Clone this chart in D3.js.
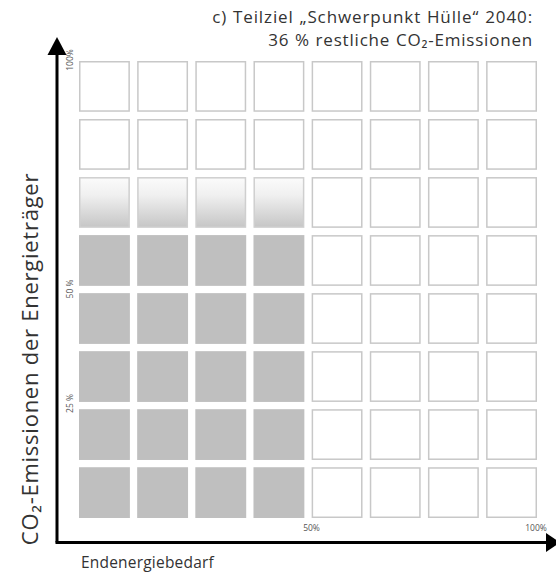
<!DOCTYPE html>
<html><head><meta charset="utf-8">
<script src="https://cdn.jsdelivr.net/npm/d3@7"></script>
<style>body{margin:0;background:#fff}svg{display:block}text{font-family:"Open Sans","Noto Sans",sans-serif}</style>
</head><body><div id="chart"></div>
<script>
const titleLines = ["c) Teilziel „Schwerpunkt Hülle“ 2040:", "36 % restliche CO₂-Emissionen"];
const xLabel = "Endenergiebedarf";
const yLabel = "CO₂-Emissionen der Energieträger";
const columns = [1, 2, 3, 4, 5, 6, 7, 8];
const rows = [8, 7, 6, 5, 4, 3, 2, 1]; // top to bottom
const columnStates = ["on", "on", "on", "on", "off", "off", "off", "off"];
const rowStates = ["empty", "empty", "fade", "solid", "solid", "solid", "solid", "solid"]; // top to bottom
const xTickValues = [50, 100];
const xTickLabels = ["50%", "100%"];
const yTickValues = [25, 50, 100];
const yTickLabels = ["25 %", "50 %", "100%"];

const W = 556, H = 577;
const svg = d3.select("#chart").append("svg").attr("width", W).attr("height", H);
const defs = svg.append("defs");
const grad = defs.append("linearGradient").attr("id", "fade").attr("x1", 0).attr("y1", 0).attr("x2", 0).attr("y2", 1);
grad.append("stop").attr("offset", "0%").attr("stop-color", "#fbfbfb");
grad.append("stop").attr("offset", "35%").attr("stop-color", "#f0f0f0");
grad.append("stop").attr("offset", "100%").attr("stop-color", "#c6c6c6");

const x0 = 79, x1 = 537, y0 = 61, y1 = 518;
const xb = d3.scaleBand().domain(columns).range([x0, x1]).paddingInner(0.125).paddingOuter(0);
const yb = d3.scaleBand().domain(rows).range([y0, y1]).paddingInner(0.125).paddingOuter(0);
const xs = d3.scaleLinear().domain([0, 100]).range([x0 - 1, x1]);
const ys = d3.scaleLinear().domain([0, 100]).range([y1, y0 - 1]);

const cells = [];
rows.forEach((r, ri) => columns.forEach((c, ci) => {
  let st = "white";
  if (columnStates[ci] === "on" && rowStates[ri] === "solid") st = "solid";
  else if (columnStates[ci] === "on" && rowStates[ri] === "fade") st = "fade";
  cells.push({r, c, st});
}));

svg.append("g").selectAll("rect").data(cells).join("rect")
  .attr("x", d => xb(d.c) + (d.st === "solid" ? 0 : 0.75))
  .attr("y", d => yb(d.r) + (d.st === "solid" ? 0 : 0.75))
  .attr("width", d => xb.bandwidth() - (d.st === "solid" ? 0 : 1.5))
  .attr("height", d => yb.bandwidth() - (d.st === "solid" ? 0 : 1.5))
  .attr("fill", d => d.st === "solid" ? "#bfbfbf" : d.st === "fade" ? "url(#fade)" : "#fff")
  .attr("stroke", d => d.st === "solid" ? "none" : d.st === "fade" ? "#cfcfcf" : "#c8c8c8")
  .attr("stroke-width", 1.5);

// axes arrows
const ax = svg.append("g");
ax.append("path").attr("d", "M57,542.5 L57,52").attr("stroke", "#000").attr("stroke-width", 3).attr("fill", "none");
ax.append("path").attr("d", "M55.5,542.5 L548,542.5").attr("stroke", "#000").attr("stroke-width", 3).attr("fill", "none");
ax.append("path").attr("d", "M47.5,55 L57,37 L66.5,55 Z").attr("fill", "#000");
ax.append("path").attr("d", "M546,533 L560,542.5 L546,552 Z").attr("fill", "#000");

// tick labels
svg.append("g").selectAll("text").data(xTickValues).join("text")
  .attr("x", d => xs(d) + (d === 100 ? -1 : 4)).attr("y", 531)
  .attr("text-anchor", "middle").attr("font-size", 8.5).attr("fill", "#555")
  .text((d, i) => xTickLabels[i]);
svg.append("g").selectAll("text").data(yTickValues).join("text")
  .attr("transform", d => `translate(73,${ys(d)}) rotate(-90)`)
  .attr("text-anchor", "middle").attr("font-size", 8.5).attr("fill", "#555")
  .text((d, i) => yTickLabels[i]);

// titles
svg.append("g").selectAll("text").data(titleLines).join("text")
  .attr("x", 533).attr("y", (d, i) => 23 + i * 23)
  .attr("text-anchor", "end").attr("font-size", 17).attr("fill", "#333")
  .attr("letter-spacing", (d, i) => i ? 0.8 : 0.9).attr("word-spacing", 0.5)
  .text(d => d);
svg.append("text").attr("x", 81).attr("y", 568).attr("font-size", 15.5).attr("letter-spacing", 0.2)
  .attr("fill", "#333").text(xLabel);
svg.append("text").attr("transform", "translate(38,359) rotate(-90)")
  .attr("text-anchor", "middle").attr("font-size", 22).attr("letter-spacing", 0.75)
  .attr("fill", "#333").text(yLabel);
</script></body></html>
